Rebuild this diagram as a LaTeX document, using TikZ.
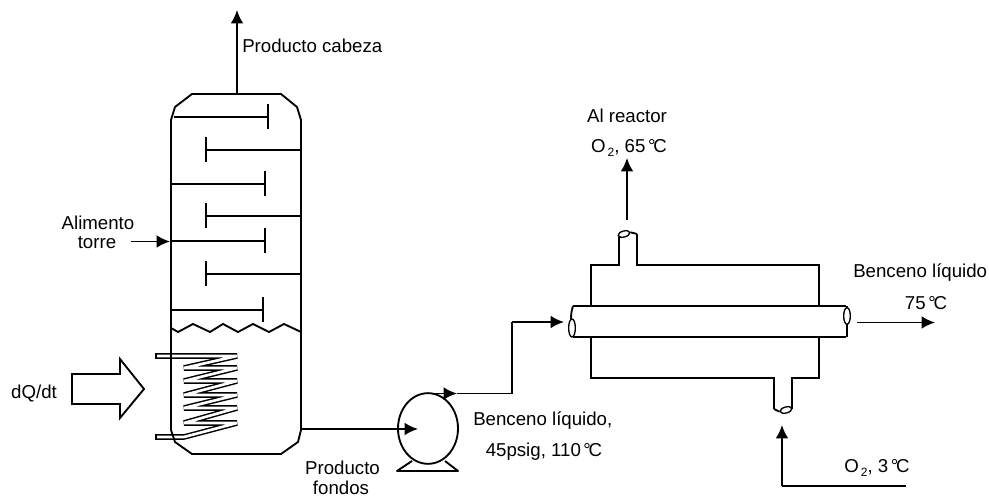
\documentclass[tikz,border=0pt]{standalone}
\usepackage{fontspec}
\setmainfont{Liberation Sans}
\usetikzlibrary{arrows.meta,shapes.geometric}
\newcommand{\degC}{\kern.14em°\kern-.12em C}
\newcommand{\oxy}{O\kern.1em\raisebox{-3.5pt}{\fontsize{9}{10}\selectfont 2}}
\tikzset{every node/.style={font=\fontsize{14}{16}\selectfont,inner sep=0pt},
	wall/.style={draw,line width=1.4pt},
	stream/.style={draw,line width=1.4pt,-{Latex[length=10pt,width=9.5pt]}},
	coil/.style={draw,line width=1.1pt,double=white,double distance=2pt,line join=bevel},
	pumpbody/.style={ellipse,draw,line width=1.4pt,minimum width=45pt,minimum height=53pt},
	lid/.style={ellipse,draw,fill=white,line width=1pt}}

\begin{document}
\begin{tikzpicture}[x=0.75pt,y=-0.75pt]
  \useasboundingbox (0,0) rectangle (989,498);
  % coil
  \draw[coil] (156,356) -- (237,356) -- (184,368) -- (237,368) -- (184,381) -- (237,381)
    -- (184,395) -- (237,395) -- (184,408) -- (237,408) -- (184,423) -- (237,423)
    -- (184,437) -- (156,437);
  \draw[line width=1.1pt] (156,352.8) -- (156,359.2);
  \draw[line width=1.1pt] (156,433.8) -- (156,440.2);
  % column
  \draw[wall] (171,120) -- (175,107) -- (192,94) -- (281,94) -- (297,107) -- (301,120)
    -- (301,430) -- (298,442) -- (281,454) -- (192,454) -- (175,442) -- (171,430) -- cycle;
  \foreach \xa/\xb/\yy in {174/268/117,301/206/150,171/265/184,301/206/216,171/265/241,301/206/274,171/263/310}
    {
    \draw[wall] (\xa,\yy) -- (\xb,\yy);
    \draw[wall] (\xb,\yy-12.5) -- (\xb,\yy+12.5);
    }
  % liquid level
  \draw[wall] (171,328) -- (178,332) -- (193,324) -- (210,332) -- (223,324) -- (238,332)
    -- (253,324) -- (269,332) -- (284,324) -- (301,332);
  % heat arrow
  \draw[wall,line join=miter] (72,374) -- (120,374) -- (120,359) -- (144,389) -- (120,418)
    -- (120,404) -- (72,404) -- cycle;
  % pump
  \draw[wall,line join=round] (412,461) -- (397,471) -- (458,471) -- (445,461);
  \node[pumpbody,fill=white] (pump) at (428,428.5) {};
  % exchanger
  \draw[wall] (591,306) -- (591,265) -- (619,265) -- (619,234);
  \draw[wall] (637,234) -- (637,265) -- (819,265) -- (819,306);
  \draw[wall] (591,337) -- (591,378) -- (774,378) -- (774,409);
  \draw[wall] (792,409) -- (792,378) -- (819,378) -- (819,337);
  \draw[wall] (573,306) -- (846,306);
  \draw[wall] (573,337) -- (846,337);
  \draw[wall] (573,306) .. controls (571,312) and (571,316) .. (571,322);
  \draw[wall] (847,306) -- (847,337);
  \node[lid,minimum width=5pt,minimum height=13.5pt] (tubein) at (572,328) {};
  \node[lid,minimum width=5pt,minimum height=12.5pt] (tubeout) at (847,316) {};
  \node[lid,rotate=15,minimum width=9pt,minimum height=4.5pt] (gasout) at (624,234) {};
  \node[lid,rotate=15,minimum width=9pt,minimum height=4.5pt] (gasin) at (786,410) {};
  \draw[wall] (gasout.east) -- (637,234);
  \draw[wall] (774,409) -- (gasin.west);
  % free ends of the streams
  \coordinate (top) at (237,94);
  \coordinate (topout) at (237,10);
  \coordinate (feed) at (131,241.5);
  \coordinate (feedin) at (170,241.5);
  \coordinate (bottom) at (301,429);
  \coordinate (pumpin) at (418,429);
  \coordinate (pumpout) at (430,393.5);
  \coordinate (pumpmid) at (457,393.5);
  \coordinate (bend1) at (512,393.5);
  \coordinate (bend2) at (512,322);
  \coordinate (hxin) at (564,322);
  \coordinate (gasup) at (627,220);
  \coordinate (gastop) at (627,158);
  \coordinate (hxout) at (857,322.5);
  \coordinate (product) at (935,322.5);
  \coordinate (oxy1) at (906,486);
  \coordinate (oxy2) at (782,486);
  \coordinate (oxy3) at (782,425);
  \foreach \from/\to in {top/topout,feed/feedin,bottom/pumpin,pumpout/pumpmid,bend2/hxin,gasup/gastop,hxout/product,oxy2/oxy3}
    \draw[stream] (\from) -- (\to);
  \draw[wall] (pumpmid) -- (bend1) -- (bend2);
  \draw[wall] (oxy1) -- (oxy2);
  % labels
  \node[anchor=west] (cabeza) at (242,46) {Producto cabeza};
  \node (alim) at (98,223) {Alimento};
  \node (torre) at (97,243) {torre};
  \node (dq) at (34,394) {dQ/dt};
  \node (prod) at (342.5,468) {Producto};
  \node (fondos) at (341,487.5) {fondos};
  \node[anchor=west] (benc1) at (473,421) {Benceno líquido,};
  \node (psig) at (544,452) {45psig, 110\degC};
  \node (react) at (627,116) {Al reactor};
  \node (gas65) at (629,148) {\oxy, 65\degC};
  \node[anchor=west] (benc2) at (853,273) {Benceno líquido};
  \node (t75) at (926,303) {75\degC};
  \node (gas3) at (877,468) {\oxy, 3\degC};
\end{tikzpicture}
\end{document}
